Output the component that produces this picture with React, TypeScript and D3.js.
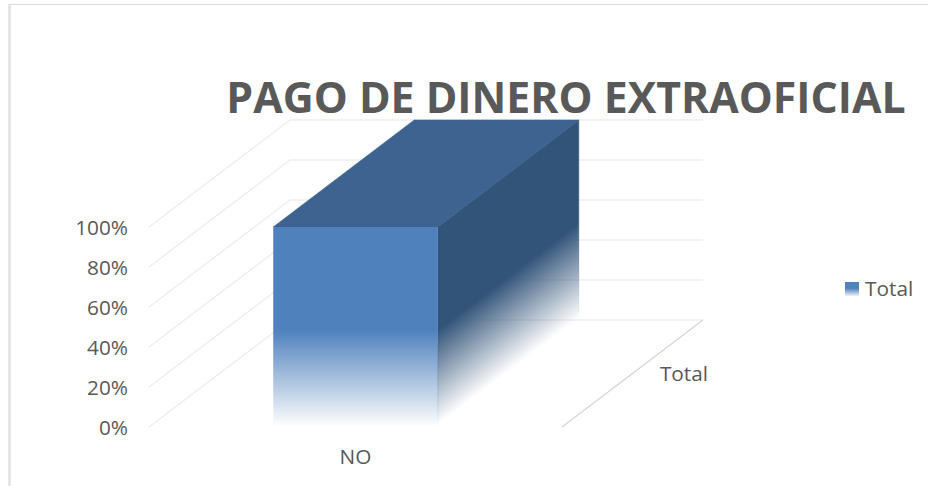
import * as d3 from "d3";

const categories = ["NO"];
const seriesNames = ["Total"];
const values = [1];
const yTicks = [0, 0.2, 0.4, 0.6, 0.8, 1];
const titleText = "PAGO DE DINERO EXTRAOFICIAL";

const width = 928;
const height = 486;
const font = "'Open Sans', sans-serif";
const textColor = "#595959";
const labelSize = 20.8;

// front plane of the 3d box, the back wall is this plane moved by depth
const depth = { x: 141, y: -107 };
const plotLeft = 149;
const plotRight = 562;

const y = d3.scaleLinear().domain([0, 1]).range([427, 227]);
const x = d3
  .scaleBand()
  .domain(categories)
  .range([plotLeft, plotRight])
  .paddingInner(0)
  .paddingOuter(0.755)
  .align(0.5);

const pts = (list: number[][]) => list.map((p) => p.join(",")).join(" ");

const App = () => {
  const x0 = x(categories[0]) as number;
  const x1 = x0 + x.bandwidth();
  const yTop = y(values[0]);
  const yBase = y(0) - 2;
  const fadeStart = y(0.485);

  // fade on the side face runs across the box's bottom edge
  const len = Math.hypot(depth.x, depth.y);
  const nx = -depth.y / len;
  const ny = depth.x / len;
  const dist = (yBase - fadeStart) * ny;

  const gridLine = "#eeeeee";

  return (
    <svg
      width={width}
      height={height}
      style={{ position: "absolute", left: 0, top: 0, background: "#fff" }}
    >
      <defs>
        <linearGradient id="front" x1="0" y1={fadeStart} x2="0" y2={yBase} gradientUnits="userSpaceOnUse">
          <stop offset="0" stopColor="#4f81bd" />
          <stop offset="1" stopColor="#4f81bd" stopOpacity="0.02" />
        </linearGradient>
        <linearGradient
          id="side"
          gradientUnits="userSpaceOnUse"
          x1={x1}
          y1={fadeStart}
          x2={x1 + nx * dist}
          y2={fadeStart + ny * dist}
        >
          <stop offset="0" stopColor="#325479" />
          <stop offset="1" stopColor="#325479" stopOpacity="0" />
        </linearGradient>
        <linearGradient id="swatch" x1="0" y1="0" x2="0" y2="1">
          <stop offset="0.45" stopColor="#4f81bd" />
          <stop offset="1" stopColor="#4f81bd" stopOpacity="0.1" />
        </linearGradient>
      </defs>

      {/* page frame */}
      <line x1={8} x2={width} y1={4.5} y2={4.5} stroke="#d9d9d9" strokeWidth={1} />
      <line x1={9.5} x2={9.5} y1={4} y2={height} stroke="#e2e2e2" strokeWidth={2.5} />

      {/* walls */}
      {yTicks.map((t) => (
        <polyline
          key={t}
          points={pts([
            [plotLeft, y(t)],
            [plotLeft + depth.x, y(t) + depth.y],
            [plotRight + depth.x, y(t) + depth.y],
          ])}
          fill="none"
          stroke={gridLine}
          strokeWidth={1.5}
        />
      ))}
      <line
        x1={plotRight}
        y1={y(0)}
        x2={plotRight + depth.x}
        y2={y(0) + depth.y}
        stroke="#d4d4d4"
        strokeWidth={1.2}
      />

      {/* box */}
      <polygon
        points={pts([
          [x1, yTop],
          [x1 + depth.x, yTop + depth.y],
          [x1 + depth.x, yBase + depth.y],
          [x1, yBase],
        ])}
        fill="url(#side)"
        stroke="url(#side)"
        strokeWidth={0.6}
      />
      <polygon
        points={pts([
          [x0, yTop],
          [x1, yTop],
          [x1 + depth.x, yTop + depth.y],
          [x0 + depth.x, yTop + depth.y],
        ])}
        fill="#3d6391"
        stroke="#3d6391"
        strokeWidth={0.6}
      />
      <rect x={x0} y={yTop} width={x.bandwidth()} height={yBase - yTop} fill="url(#front)" />

      {/* axis labels */}
      {yTicks.map((t) => (
        <text
          key={t}
          x={128}
          y={y(t) + 1}
          dy="0.35em"
          textAnchor="end"
          fontFamily={font}
          fontSize={labelSize}
          fill={textColor}
        >
          {d3.format(".0%")(t)}
        </text>
      ))}
      <text
        x={x0 + x.bandwidth() / 2}
        y={457}
        dy="0.35em"
        textAnchor="middle"
        fontFamily={font}
        fontSize={labelSize}
        fill={textColor}
      >
        {categories[0]}
      </text>
      <text x={684} y={374} dy="0.35em" textAnchor="middle" fontFamily={font} fontSize={labelSize} fill={textColor}>
        {seriesNames[0]}
      </text>

      {/* title */}
      <text
        x={566}
        y={98}
        dy="0.35em"
        textAnchor="middle"
        fontFamily={font}
        fontWeight={680}
        fontSize={42.8}
        fill={textColor}
      >
        {titleText}
      </text>

      {/* legend */}
      <rect x={845} y={282} width={14} height={14} fill="url(#swatch)" />
      <text x={865} y={289} dy="0.35em" fontFamily={font} fontSize={labelSize} fill={textColor}>
        {seriesNames[0]}
      </text>
    </svg>
  );
};

export default App;
